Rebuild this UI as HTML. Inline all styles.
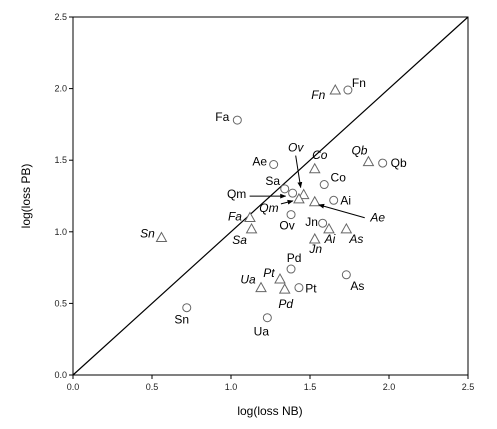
<!DOCTYPE html>
<html><head><meta charset="utf-8"><style>
html,body{margin:0;padding:0;background:#fff;}
svg{display:block;font-family:"Liberation Sans",sans-serif;}
</style></head><body>
<svg id="chart" width="497" height="429">
<defs><marker id="ah" viewBox="0 0 10 10" refX="9" refY="5" markerWidth="6" markerHeight="6" orient="auto"><path d="M0,1 L10,5 L0,9 z" fill="#000"/></marker></defs>
</svg>
<script>
const ticks = [0, 0.5, 1.0, 1.5, 2.0, 2.5];
const circLabels = ["Fn","Fa","Ae","Qb","Co","Sa","Qm","Ai","Ov","Jn","Pd","Pt","As","Sn","Ua"];
const circX = [1.74,1.04,1.27,1.96,1.59,1.34,1.39,1.65,1.38,1.58,1.38,1.43,1.73,0.72,1.23];
const circY = [1.99,1.78,1.47,1.48,1.33,1.30,1.27,1.22,1.12,1.06,0.74,0.61,0.70,0.47,0.40];
const triLabels = ["Fn","Co","Qb","Ov","Qm","Ae","Fa","Sa","Ai","As","Jn","Sn","Pt","Ua","Pd"];
const triX = [1.66,1.53,1.87,1.46,1.43,1.53,1.12,1.13,1.62,1.73,1.53,0.56,1.31,1.19,1.34];
const triY = [1.99,1.44,1.49,1.26,1.23,1.21,1.10,1.02,1.02,1.02,0.95,0.96,0.67,0.61,0.60];
// label offsets (styling)
const cOff = {Fn:[11,-7],Fa:[-15,-3],Ae:[-14,-3],Qb:[16,0],Co:[14,-7],Sa:[-12,-8],Qm:[-56,1,-43,3,-7,3],Ai:[12,0],Ov:[-4,11],Jn:[-11,-1],Pd:[3,-11],Pt:[12,1],As:[11,11],Sn:[-5,12],Ua:[-6,14]};
const tOff = {Fn:[-17,5],Co:[5,-14],Qb:[-9,-11],Ov:[-8,-47,-8,-39,-3,-7],Qm:[-30,9,-18,5,-6,2],Ae:[63,16,50,16,4,3],Fa:[-15,-1],Sa:[-12,11],Ai:[1,10],As:[10,10],Jn:[1,10],Sn:[-14,-4],Pt:[-11,-6],Ua:[-13,-8],Pd:[1,15]};
const X0=73, X1=468, Y0=375, Y1=17;
const sx = v => X0 + (X1-X0)*v/2.5;
const sy = v => Y0 - (Y0-Y1)*v/2.5;
const svg = document.getElementById('chart');
const NS='http://www.w3.org/2000/svg';
function mk(tag, attrs, parent){const e=document.createElementNS(NS,tag);for(const k in attrs)e.setAttribute(k,attrs[k]);(parent||svg).appendChild(e);return e;}
const frame = mk('rect',{x:X0,y:Y1,width:X1-X0,height:Y0-Y1,fill:'none',stroke:'#000','stroke-width':1});


ticks.forEach(t=>{
  const a=mk('line',{x1:sx(t),x2:sx(t),y1:Y0,y2:Y0+4,stroke:'#000'});
  
  
  const b=mk('line',{x1:X0-4,x2:X0,y1:sy(t),y2:sy(t),stroke:'#000'});
  
  
  const tx=mk('text',{x:sx(t),y:Y0+15,'font-size':9,'text-anchor':'middle',fill:'#222'});tx.textContent=t.toFixed(1);
  
  
  const ty=mk('text',{x:X0-6,y:sy(t)+3,'font-size':9,'text-anchor':'end',fill:'#222'});ty.textContent=t.toFixed(1);
  
  
});
const diag=mk('line',{x1:sx(0),y1:sy(0),x2:sx(2.5),y2:sy(2.5),stroke:'#000','stroke-width':1.2});


const xt=mk('text',{x:270,y:415,'font-size':12,'text-anchor':'middle'});xt.textContent='log(loss NB)';


const yt=mk('text',{x:0,y:0,'font-size':12,'text-anchor':'middle',transform:'translate(30,196) rotate(-90)'});yt.textContent='log(loss PB)';


function label(px,py,off,txt,italic){
  const t=mk('text',{x:px+off[0],y:py+off[1]+4,'font-size':12,'text-anchor':'middle','font-style':italic?'italic':'normal'});
  t.textContent=txt;
  
  
  if(off.length>2){
    const l=mk('line',{x1:px+off[2],y1:py+off[3],x2:px+off[4],y2:py+off[5],stroke:'#000','stroke-width':1,'marker-end':'url(#ah)'});
    
    
  }
}
circX.forEach((v,i)=>{
  const px=sx(v),py=sy(circY[i]);
  const c=mk('circle',{cx:px,cy:py,r:4,fill:'#fff',stroke:'#666','stroke-width':1});
  
  
  label(px,py,cOff[circLabels[i]],circLabels[i],false);
});
triX.forEach((v,i)=>{
  const px=sx(v),py=sy(triY[i]);
  const p=mk('polygon',{points:`${px},${py-5} ${px-5},${py+4} ${px+5},${py+4}`,fill:'#fff',stroke:'#666','stroke-width':1});
  
  
  label(px,py,tOff[triLabels[i]],triLabels[i],true);
});
</script>
</body></html>
